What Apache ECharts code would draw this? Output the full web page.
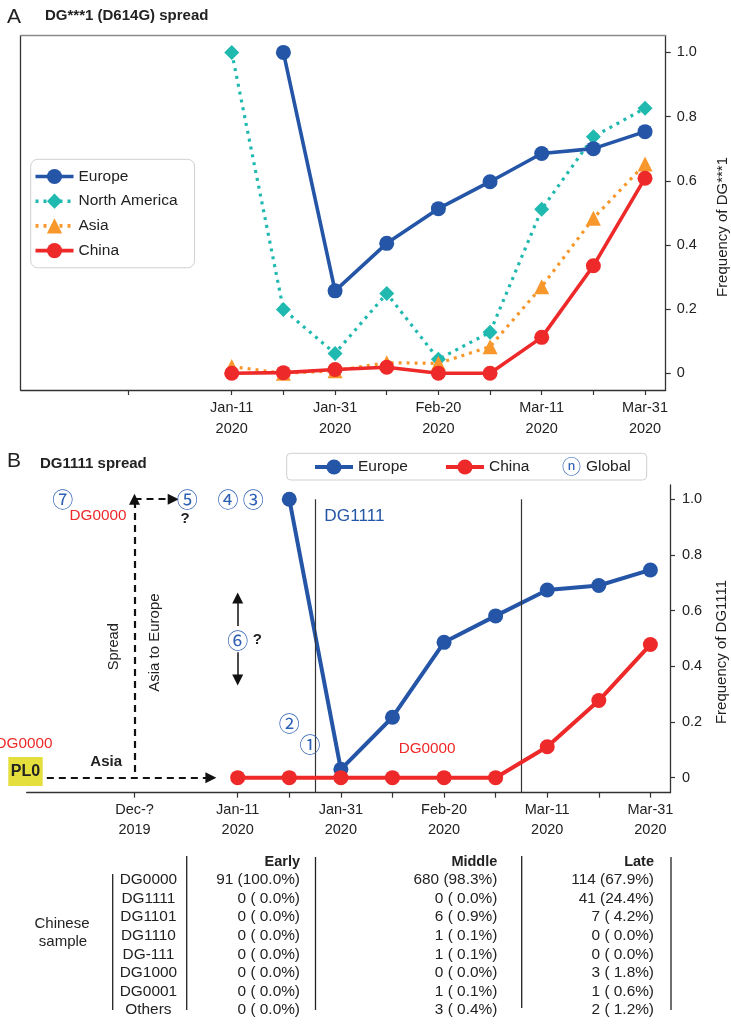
<!DOCTYPE html>
<html><head><meta charset="utf-8">
<script src="https://cdn.jsdelivr.net/npm/echarts@6/dist/echarts.min.js"></script>
<style>html,body{margin:0;padding:0;background:#fff;}#c{width:731px;height:1024px;}</style>
</head><body><div id="c"></div>
<script>
// ---------- data ----------
const datePos = [0, 1, 2, 3, 4, 5, 6, 7, 8]; // Jan-11 ... Mar-31 (10-day steps)
const tickPos = [-2, 0, 1, 2, 3, 4, 5, 6, 7, 8];
const labelPosA = [0, 2, 4, 6, 8];
const labelTextA = ['Jan-11\n2020', 'Jan-31\n2020', 'Feb-20\n2020', 'Mar-11\n2020', 'Mar-31\n2020'];
const labelPosB = [-2, 0, 2, 4, 6, 8];
const labelTextB = ['Dec-?\n2019', 'Jan-11\n2020', 'Jan-31\n2020', 'Feb-20\n2020', 'Mar-11\n2020', 'Mar-31\n2020'];
const yTicks = [0, 0.2, 0.4, 0.6, 0.8, 1.0];

const europeA = [null, 1.0, 0.257, 0.405, 0.513, 0.597, 0.685, 0.700, 0.753];
const northAmericaA = [1.0, 0.199, 0.062, 0.249, 0.044, 0.128, 0.511, 0.737, 0.826];
const asiaA = [0.021, 0.0, 0.008, 0.033, 0.031, 0.083, 0.270, 0.483, 0.652];
const chinaA = [0.0, 0.002, 0.012, 0.019, 0.0, 0.0, 0.112, 0.335, 0.608];

const europeB = [null, 1.0, 0.030, 0.217, 0.486, 0.581, 0.674, 0.690, 0.746];
const chinaB = [0.0, 0.0, 0.0, 0.0, 0.0, 0.0, 0.111, 0.277, 0.478];
const periodBounds = [1.5, 5.5];

const tableRows = ['DG0000', 'DG1111', 'DG1101', 'DG1110', 'DG-111', 'DG1000', 'DG0001', 'Others'];
const tableCols = ['Early', 'Middle', 'Late'];
const earlyCount = [91, 0, 0, 0, 0, 0, 0, 0];
const earlyPct = [100.0, 0.0, 0.0, 0.0, 0.0, 0.0, 0.0, 0.0];
const middleCount = [680, 0, 6, 1, 1, 0, 1, 3];
const middlePct = [98.3, 0.0, 0.9, 0.1, 0.1, 0.0, 0.1, 0.4];
const lateCount = [114, 41, 7, 0, 0, 3, 1, 2];
const latePct = [67.9, 24.4, 4.2, 0.0, 0.0, 1.8, 0.6, 1.2];

// ---------- style ----------
const SANS = "'Liberation Sans',Arial,sans-serif";
const CIRC = "'Noto Sans CJK JP','Noto Sans CJK SC','DejaVu Sans',sans-serif";
const C_EU = '#2455a6', C_NA = '#1fb9b0', C_AS = '#f7972c', C_CN = '#ee2929', C_NUM = '#2e60b4';
const AX = '#333';

function pairs(xs, ys) { const o = []; ys.forEach((v, i) => { if (v !== null) o.push([xs[i], v]); }); return o; }
function lookup(pos, txt) { const m = {}; pos.forEach((p, i) => m[p] = txt[i]); return v => m[v] !== undefined ? m[v] : ''; }
const yFmt = v => (Math.abs(v) < 1e-9 ? '0' : v.toFixed(1));

const chart = echarts.init(document.getElementById('c'), null, { renderer: 'canvas' });

const xBase = (grid, min, max, pos, txt, lh) => ({
  type: 'value', gridIndex: grid, min: min, max: max, position: 'bottom',
  splitLine: { show: false },
  axisLine: { onZero: false, lineStyle: { color: AX, width: 1.3 } },
  axisTick: { customValues: tickPos, length: 5, lineStyle: { color: AX, width: 1.2 } },
  axisLabel: { customValues: pos, formatter: lookup(pos, txt), margin: 7, color: '#222', fontSize: 14.5, lineHeight: lh, fontFamily: SANS }
});
const yBase = (grid, min, max, margin) => ({
  type: 'value', gridIndex: grid, min: min, max: max, position: 'right',
  splitLine: { show: false },
  axisLine: { show: true, onZero: false, lineStyle: { color: AX, width: 1.3 } },
  axisTick: { show: true, customValues: yTicks, length: 5, lineStyle: { color: AX, width: 1.2 } },
  axisLabel: { customValues: yTicks, formatter: yFmt, margin: margin, color: '#222', fontSize: 14.5, fontFamily: SANS }
});

const lineS = (name, data, xi, yi, color, symbol, dotted, width, z) => ({
  type: 'line', name: name, data: data, xAxisIndex: xi, yAxisIndex: yi,
  symbol: symbol, symbolSize: 15, showAllSymbol: true, z: z,
  itemStyle: { color: color, opacity: 1 },
  lineStyle: { color: color, width: width, type: dotted ? [3, 5] : 'solid', cap: 'butt' },
  emphasis: { disabled: true }, animation: false
});

const dashed = { color: '#111', width: 2.2, type: [7, 5] };
const option = {
  animation: false,
  grid: [
    { left: 20.7, top: 35.7, width: 645, height: 354.3 },
    { left: 26.7, top: 485, width: 643.3, height: 307.7 }
  ],
  xAxis: [
    xBase(0, -4.085, 8.40, labelPosA, labelTextA, 21),
    { type: 'value', gridIndex: 0, min: -4.085, max: 8.40, position: 'top', axisLine: { onZero: false, lineStyle: { color: '#8a8a8a', width: 1.3 } }, axisTick: { show: false }, axisLabel: { show: false }, splitLine: { show: false } },
    xBase(1, -4.09, 8.38, labelPosB, labelTextB, 20)
  ],
  yAxis: [
    yBase(0, -0.052, 1.052, 11),
    { type: 'value', gridIndex: 0, min: -0.052, max: 1.052, position: 'left', axisLine: { show: true, onZero: false, lineStyle: { color: AX, width: 1.3 } }, axisTick: { show: false }, axisLabel: { show: false }, splitLine: { show: false } },
    yBase(1, -0.054, 1.051, 12)
  ],
  legend: [
    {
      data: ['Europe', 'North America', 'Asia', 'China'], orient: 'vertical', left: 30.7, top: 159.3,
      itemWidth: 38, itemHeight: 19, itemGap: 8.7, padding: [9.2, 17, 9.2, 3],
      lineStyle: { width: 3.6 },
      borderColor: '#cfcfcf', borderWidth: 1, borderRadius: 7, backgroundColor: '#fff',
      textStyle: { fontSize: 15.5, color: '#222', fontFamily: SANS }, selectedMode: false
    },
    {
      data: ['Europe', 'China'], orient: 'horizontal', left: 313, top: 459,
      itemWidth: 38, itemHeight: 19, itemGap: 36, padding: 0,
      lineStyle: { width: 4 },
      textStyle: { fontSize: 15.5, color: '#222', fontFamily: SANS }, selectedMode: false
    }
  ],
  series: [
    lineS('North America', pairs(datePos, northAmericaA), 0, 0, C_NA, 'diamond', true, 3.2, 2),
    lineS('Asia', pairs(datePos, asiaA), 0, 0, C_AS, 'triangle', true, 3.2, 3),
    lineS('Europe', pairs(datePos, europeA), 0, 0, C_EU, 'circle', false, 3.6, 4),
    lineS('China', pairs(datePos, chinaA), 0, 0, C_CN, 'circle', false, 3.6, 5),
    lineS('Europe', pairs(datePos, europeB), 2, 2, C_EU, 'circle', false, 4, 4),
    lineS('China', pairs(datePos, chinaB), 2, 2, C_CN, 'circle', false, 4, 5),
    {
      type: 'line', name: 'annot', data: [], xAxisIndex: 2, yAxisIndex: 2, silent: true, z: 1,
      markLine: {
        silent: true, animation: false, label: { show: false }, symbol: ['none', 'none'],
        lineStyle: { color: '#333', width: 1.2, type: 'solid' },
        data: periodBounds.map(b => [{ coord: [b, -0.054] }, { coord: [b, 1.0] }])
      }
    },
    {
      type: 'line', name: 'arrows', data: [], xAxisIndex: 2, yAxisIndex: 2, silent: true, z: 6,
      markLine: {
        silent: true, animation: false, label: { show: false },
        symbol: ['none', 'triangle'], symbolSize: 11, symbolOffset: 0,
        data: [
          [{ coord: [-3.70, 0], lineStyle: dashed }, { coord: [-0.52, 0] }],
          [{ coord: [-2, 0.02], lineStyle: dashed }, { coord: [-2, 1.0] }],
          [{ coord: [-2, 1.0], lineStyle: dashed }, { coord: [-1.25, 1.0] }],
          [{ coord: [0, 0.545], lineStyle: { color: '#111', width: 1.5, type: 'solid' } }, { coord: [0, 0.645] }],
          [{ coord: [0, 0.450], lineStyle: { color: '#111', width: 1.5, type: 'solid' } }, { coord: [0, 0.351] }]
        ]
      }
    }
  ]
};
chart.setOption(option);

// ---------- annotations (positioned through the axes of panel B) ----------
const pB = (x, y) => chart.convertToPixel({ xAxisIndex: 2, yAxisIndex: 2 }, [x, y]);
const txt = (text, x, y, o) => ({
  type: 'text', x: x, y: y, silent: true, z: 50, rotation: (o && o.rot) || 0,
  style: Object.assign({ text: text, align: 'left', verticalAlign: 'middle', fill: '#222', fontSize: 15, fontFamily: SANS }, o && o.style)
});
const g = [];
// panel letters and titles
g.push(txt('A', 7, 17, { style: { fontSize: 21, fill: '#222' } }));
g.push(txt('DG***1 (D614G) spread', 45, 16, { style: { fontSize: 15, fontWeight: 'bold' } }));
g.push(txt('B', 7, 461, { style: { fontSize: 21, fill: '#222' } }));
g.push(txt('DG1111 spread', 40, 464, { style: { fontSize: 15, fontWeight: 'bold' } }));
// y axis names
g.push(txt('Frequency of DG***1', 723, 227, { rot: Math.PI / 2, style: { align: 'center' } }));
g.push(txt('Frequency of DG1111', 722, 652, { rot: Math.PI / 2, style: { align: 'center' } }));
// legend box B + Global item
g.push({ type: 'rect', shape: { x: 286.7, y: 453.3, width: 360, height: 26.7, r: 4 }, style: { fill: 'none', stroke: '#cfcfcf', lineWidth: 1 }, z: 40, silent: true });
g.push(txt('\u24DD', 571.5, 466.5, { style: { align: 'center', fontFamily: CIRC, fontSize: 19, fill: C_NUM } }));
g.push(txt('Global', 586, 467, { style: { fontSize: 15.5 } }));
// circled numbers
const nums = [['\u2466', -3.39, 1.0], ['\u2464', -0.98, 1.0], ['\u2463', -0.19, 1.0], ['\u2462', 0.30, 1.0], ['\u2465', 0.0, 0.495], ['\u2461', 1.0, 0.195], ['\u2460', 1.40, 0.121]];
nums.forEach(n => { const p = pB(n[1], n[2]); g.push(txt(n[0], p[0], p[1], { style: { align: 'center', fontFamily: CIRC, fontSize: 21, fill: C_NUM } })); });
// labels in panel B
let p;
p = pB(-3.39, 0.94); g.push(txt('DG0000', 69.5, p[1], { style: { fill: C_CN, fontSize: 15.3 } }));
p = pB(-1.02, 0.93); g.push(txt('?', p[0], p[1], { style: { align: 'center', fontWeight: 'bold', fontSize: 15 } }));
p = pB(0.38, 0.495); g.push(txt('?', p[0], p[1], { style: { align: 'center', fontWeight: 'bold', fontSize: 15 } }));
p = pB(1.68, 0.94); g.push(txt('DG1111', p[0], p[1], { style: { fill: C_EU, fontSize: 17.2 } }));
p = pB(3.12, 0.103); g.push(txt('DG0000', p[0], p[1], { style: { fill: C_CN, fontSize: 15.3 } }));
p = pB(-3.60, 0.12); g.push(txt('DG0000', 52.5, p[1], { style: { align: 'right', fill: C_CN, fontSize: 15.3 } }));
p = pB(-4.1, 0.022);
g.push({ type: 'rect', shape: { x: 8.3, y: p[1] - 14.5, width: 34.4, height: 29 }, style: { fill: '#e4df3c' }, z: 45, silent: true });
g.push(txt('PL0', 25.5, p[1] + 0.5, { style: { align: 'center', fontWeight: 'bold', fontSize: 16 } }));
p = pB(-2.55, 0.058); g.push(txt('Asia', p[0], p[1], { style: { align: 'center', fontWeight: 'bold', fontSize: 15 } }));
p = pB(-2.4, 0.47); g.push(txt('Spread', p[0], p[1], { rot: Math.PI / 2, style: { align: 'center', fontSize: 14.6 } }));
p = pB(-1.6, 0.485); g.push(txt('Asia to Europe', p[0], p[1], { rot: Math.PI / 2, style: { align: 'center', fontSize: 15 } }));

// ---------- table ----------
const fmtCell = (c, pc) => c + ' (' + pc.toFixed(1).padStart(4, ' ') + '%)';
const colRight = [300, 497.3, 654];
const colData = [[earlyCount, earlyPct], [middleCount, middlePct], [lateCount, latePct]];
const headY = 861.5, row0 = 880, rowH = 18.6;
tableCols.forEach((c, j) => g.push(txt(c, colRight[j], headY, { style: { align: 'right', fontWeight: 'bold', fontSize: 14.5 } })));
tableRows.forEach((r, i) => {
  g.push(txt(r, 148.4, row0 + i * rowH, { style: { align: 'center', fontSize: 15.4 } }));
  colData.forEach((cd, j) => g.push(txt(fmtCell(cd[0][i], cd[1][i]), colRight[j], row0 + i * rowH, { style: { align: 'right', fontSize: 15.4 } })));
});
g.push(txt('Chinese', 62, 924, { style: { align: 'center', fontSize: 15 } }));
g.push(txt('sample', 63, 942, { style: { align: 'center', fontSize: 15 } }));
const vl = (x, y1, y2) => ({ type: 'line', shape: { x1: x, y1: y1, x2: x, y2: y2 }, style: { stroke: '#222', lineWidth: 1.3 }, silent: true, z: 40 });
g.push(vl(112.7, 874, 1010), vl(186.7, 856, 1010), vl(315.5, 857, 1010), vl(521.7, 856, 1008), vl(671, 857, 1010));

chart.setOption({ graphic: g });
</script></body></html>
